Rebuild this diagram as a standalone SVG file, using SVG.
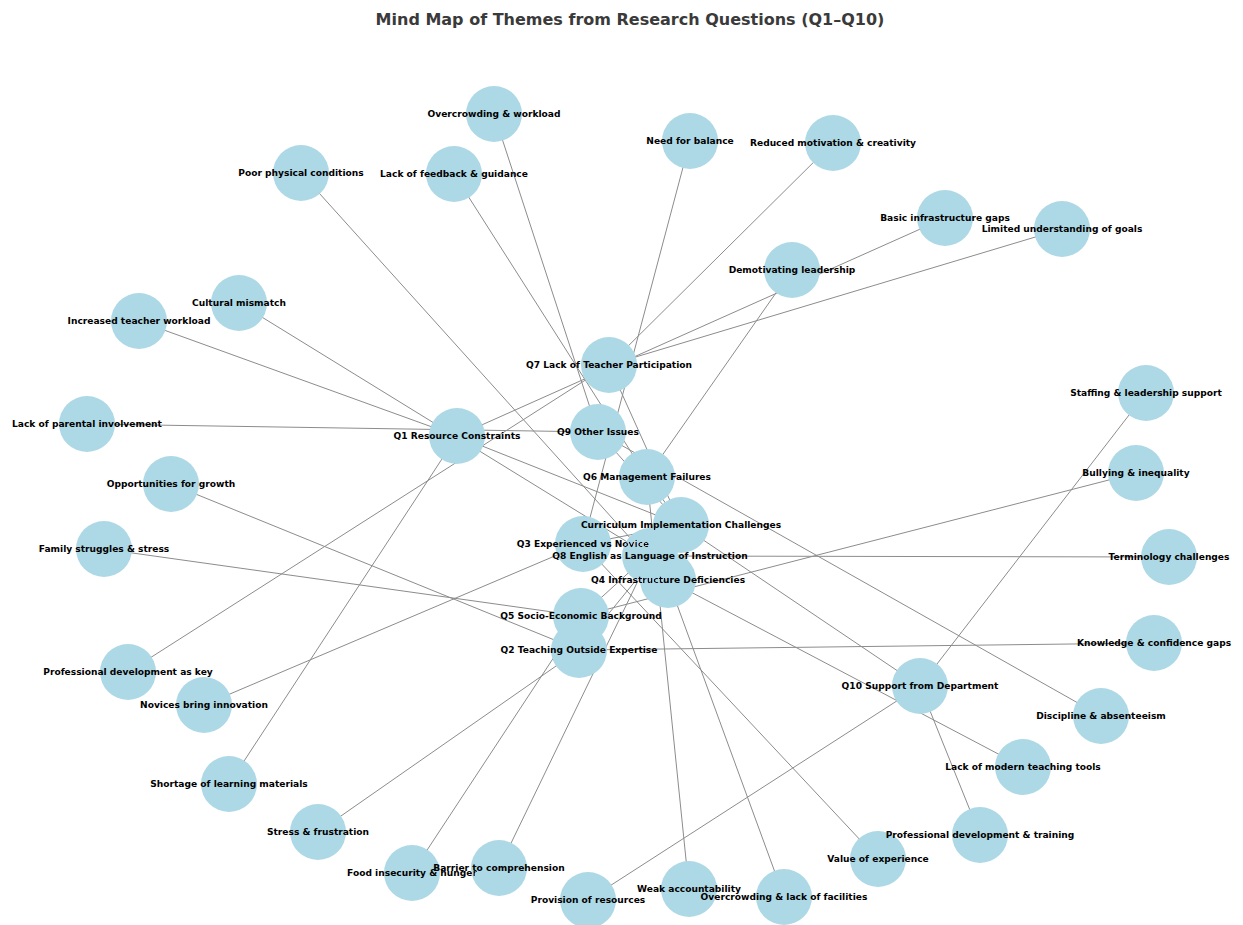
<svg xmlns="http://www.w3.org/2000/svg" xmlns:xlink="http://www.w3.org/1999/xlink" width="1243" height="925" viewBox="0 0 1243 925">
  <style>
    .edge { stroke: #8c8c8c; stroke-width: 1; fill: none; }
    .node { fill: #add8e6; }
    .label { font-family: "DejaVu Sans", "Liberation Sans", sans-serif; font-weight: bold; font-size: 9.1px; fill: #000; text-anchor: middle; }
    .title { font-family: "DejaVu Sans", "Liberation Sans", sans-serif; font-weight: bold; font-size: 16px; fill: #3a3a3a; text-anchor: middle; }
  </style>
  <defs>
    <!-- let overlapping neighbour labels stay readable on top of a circle -->
    <mask id="mask-q8" maskUnits="userSpaceOnUse" x="0" y="0" width="1243" height="925">
      <rect width="1243" height="925" fill="#fff"/>
      <use href="#label-q3"/>
      <use href="#label-q4"/>
      <use href="#label-curriculum"/>
    </mask>
    <mask id="mask-barrier" maskUnits="userSpaceOnUse" x="0" y="0" width="1243" height="925">
      <rect width="1243" height="925" fill="#fff"/>
      <use href="#label-food"/>
    </mask>
    <mask id="mask-overcrowding-facilities" maskUnits="userSpaceOnUse" x="0" y="0" width="1243" height="925">
      <rect width="1243" height="925" fill="#fff"/>
      <use href="#label-weak"/>
    </mask>
  </defs>

  <rect width="1243" height="925" fill="#fff"/>
  <text class="title" x="630" y="25">Mind Map of Themes from Research Questions (Q1–Q10)</text>

  <g id="edges">
    <!-- central theme to each research question -->
    <line class="edge" x1="681" y1="525" x2="457" y2="436"/>
    <line class="edge" x1="681" y1="525" x2="579" y2="650"/>
    <line class="edge" x1="681" y1="525" x2="583" y2="544"/>
    <line class="edge" x1="681" y1="525" x2="668" y2="580"/>
    <line class="edge" x1="681" y1="525" x2="581" y2="616"/>
    <line class="edge" x1="681" y1="525" x2="647" y2="477"/>
    <line class="edge" x1="681" y1="525" x2="609" y2="365"/>
    <line class="edge" x1="681" y1="525" x2="650" y2="556"/>
    <line class="edge" x1="681" y1="525" x2="598" y2="432"/>
    <line class="edge" x1="681" y1="525" x2="920" y2="686"/>
    <!-- Q1 -->
    <line class="edge" x1="457" y1="436" x2="139" y2="321"/>
    <line class="edge" x1="457" y1="436" x2="229" y2="784"/>
    <line class="edge" x1="457" y1="436" x2="945" y2="218"/>
    <!-- Q2 -->
    <line class="edge" x1="579" y1="650" x2="1154" y2="643"/>
    <line class="edge" x1="579" y1="650" x2="318" y2="832"/>
    <line class="edge" x1="579" y1="650" x2="171" y2="484"/>
    <!-- Q3 -->
    <line class="edge" x1="583" y1="544" x2="690" y2="141"/>
    <line class="edge" x1="583" y1="544" x2="878" y2="859"/>
    <line class="edge" x1="583" y1="544" x2="204" y2="705"/>
    <!-- Q4 -->
    <line class="edge" x1="668" y1="580" x2="301" y2="173"/>
    <line class="edge" x1="668" y1="580" x2="1023" y2="767"/>
    <line class="edge" x1="668" y1="580" x2="784" y2="897"/>
    <!-- Q5 -->
    <line class="edge" x1="581" y1="616" x2="104" y2="549"/>
    <line class="edge" x1="581" y1="616" x2="412" y2="873"/>
    <line class="edge" x1="581" y1="616" x2="1136" y2="473"/>
    <!-- Q6 -->
    <line class="edge" x1="647" y1="477" x2="454" y2="174"/>
    <line class="edge" x1="647" y1="477" x2="792" y2="270"/>
    <line class="edge" x1="647" y1="477" x2="689" y2="889"/>
    <!-- Q7 -->
    <line class="edge" x1="609" y1="365" x2="833" y2="143"/>
    <line class="edge" x1="609" y1="365" x2="1062" y2="229"/>
    <line class="edge" x1="609" y1="365" x2="128" y2="672"/>
    <!-- Q8 -->
    <line class="edge" x1="650" y1="556" x2="499" y2="868"/>
    <line class="edge" x1="650" y1="556" x2="1169" y2="557"/>
    <line class="edge" x1="650" y1="556" x2="239" y2="303"/>
    <!-- Q9 -->
    <line class="edge" x1="598" y1="432" x2="494" y2="114"/>
    <line class="edge" x1="598" y1="432" x2="1101" y2="716"/>
    <line class="edge" x1="598" y1="432" x2="87" y2="424"/>
    <!-- Q10 -->
    <line class="edge" x1="920" y1="686" x2="1146" y2="393"/>
    <line class="edge" x1="920" y1="686" x2="588" y2="900"/>
    <line class="edge" x1="920" y1="686" x2="980" y2="835"/>
  </g>

  <!-- theme nodes -->
  <g id="overcrowding-workload"><circle class="node" cx="494" cy="114" r="28"/><text class="label" x="494" y="114" dy="0.36em">Overcrowding &amp; workload</text></g>
  <g id="need-for-balance"><circle class="node" cx="690" cy="141" r="28"/><text class="label" x="690" y="141" dy="0.36em">Need for balance</text></g>
  <g id="reduced-motivation"><circle class="node" cx="833" cy="143" r="28"/><text class="label" x="833" y="143" dy="0.36em">Reduced motivation &amp; creativity</text></g>
  <g id="poor-physical-conditions"><circle class="node" cx="301" cy="173" r="28"/><text class="label" x="301" y="173" dy="0.36em">Poor physical conditions</text></g>
  <g id="lack-of-feedback"><circle class="node" cx="454" cy="174" r="28"/><text class="label" x="454" y="174" dy="0.36em">Lack of feedback &amp; guidance</text></g>
  <g id="basic-infrastructure-gaps"><circle class="node" cx="945" cy="218" r="28"/><text class="label" x="945" y="218" dy="0.36em">Basic infrastructure gaps</text></g>
  <g id="limited-understanding"><circle class="node" cx="1062" cy="229" r="28"/><text class="label" x="1062" y="229" dy="0.36em">Limited understanding of goals</text></g>
  <g id="demotivating-leadership"><circle class="node" cx="792" cy="270" r="28"/><text class="label" x="792" y="270" dy="0.36em">Demotivating leadership</text></g>
  <g id="cultural-mismatch"><circle class="node" cx="239" cy="303" r="28"/><text class="label" x="239" y="303" dy="0.36em">Cultural mismatch</text></g>
  <g id="increased-workload"><circle class="node" cx="139" cy="321" r="28"/><text class="label" x="139" y="321" dy="0.36em">Increased teacher workload</text></g>
  <g id="staffing-support"><circle class="node" cx="1146" cy="393" r="28"/><text class="label" x="1146" y="393" dy="0.36em">Staffing &amp; leadership support</text></g>
  <g id="parental-involvement"><circle class="node" cx="87" cy="424" r="28"/><text class="label" x="87" y="424" dy="0.36em">Lack of parental involvement</text></g>
  <g id="bullying-inequality"><circle class="node" cx="1136" cy="473" r="28"/><text class="label" x="1136" y="473" dy="0.36em">Bullying &amp; inequality</text></g>
  <g id="opportunities-growth"><circle class="node" cx="171" cy="484" r="28"/><text class="label" x="171" y="484" dy="0.36em">Opportunities for growth</text></g>
  <g id="family-struggles"><circle class="node" cx="104" cy="549" r="28"/><text class="label" x="104" y="549" dy="0.36em">Family struggles &amp; stress</text></g>
  <g id="terminology-challenges"><circle class="node" cx="1169" cy="557" r="28"/><text class="label" x="1169" y="557" dy="0.36em">Terminology challenges</text></g>
  <g id="knowledge-gaps"><circle class="node" cx="1154" cy="643" r="28"/><text class="label" x="1154" y="643" dy="0.36em">Knowledge &amp; confidence gaps</text></g>
  <g id="pd-as-key"><circle class="node" cx="128" cy="672" r="28"/><text class="label" x="128" y="672" dy="0.36em">Professional development as key</text></g>
  <g id="novices-innovation"><circle class="node" cx="204" cy="705" r="28"/><text class="label" x="204" y="705" dy="0.36em">Novices bring innovation</text></g>
  <g id="discipline-absenteeism"><circle class="node" cx="1101" cy="716" r="28"/><text class="label" x="1101" y="716" dy="0.36em">Discipline &amp; absenteeism</text></g>
  <g id="modern-tools"><circle class="node" cx="1023" cy="767" r="28"/><text class="label" x="1023" y="767" dy="0.36em">Lack of modern teaching tools</text></g>
  <g id="shortage-materials"><circle class="node" cx="229" cy="784" r="28"/><text class="label" x="229" y="784" dy="0.36em">Shortage of learning materials</text></g>
  <g id="value-experience"><circle class="node" cx="878" cy="859" r="28"/><text class="label" x="878" y="859" dy="0.36em">Value of experience</text></g>
  <g id="pd-training"><circle class="node" cx="980" cy="835" r="28"/><text class="label" x="980" y="835" dy="0.36em">Professional development &amp; training</text></g>
  <g id="stress-frustration"><circle class="node" cx="318" cy="832" r="28"/><text class="label" x="318" y="832" dy="0.36em">Stress &amp; frustration</text></g>
  <g id="food-insecurity"><circle class="node" cx="412" cy="873" r="28"/><text id="label-food" class="label" x="412" y="873" dy="0.36em">Food insecurity &amp; hunger</text></g>
  <g id="barrier-comprehension"><circle class="node" cx="499" cy="868" r="28" mask="url(#mask-barrier)"/><text class="label" x="499" y="868" dy="0.36em">Barrier to comprehension</text></g>
  <g id="weak-accountability"><circle class="node" cx="689" cy="889" r="28"/><text id="label-weak" class="label" x="689" y="889" dy="0.36em">Weak accountability</text></g>
  <g id="overcrowding-facilities"><circle class="node" cx="784" cy="897" r="28" mask="url(#mask-overcrowding-facilities)"/><text class="label" x="784" y="897" dy="0.36em">Overcrowding &amp; lack of facilities</text></g>
  <g id="provision-resources"><circle class="node" cx="588" cy="900" r="28"/><text class="label" x="588" y="900" dy="0.36em">Provision of resources</text></g>

  <!-- research question hubs -->
  <g id="q7"><circle class="node" cx="609" cy="365" r="28"/><text class="label" x="609" y="365" dy="0.36em">Q7 Lack of Teacher Participation</text></g>
  <g id="q9"><circle class="node" cx="598" cy="432" r="28"/><text class="label" x="598" y="432" dy="0.36em">Q9 Other Issues</text></g>
  <g id="q1"><circle class="node" cx="457" cy="436" r="28"/><text class="label" x="457" y="436" dy="0.36em">Q1 Resource Constraints</text></g>
  <g id="q6"><circle class="node" cx="647" cy="477" r="28"/><text class="label" x="647" y="477" dy="0.36em">Q6 Management Failures</text></g>
  <g id="q5"><circle class="node" cx="581" cy="616" r="28"/><text class="label" x="581" y="616" dy="0.36em">Q5 Socio-Economic Background</text></g>
  <g id="q2"><circle class="node" cx="579" cy="650" r="28"/><text class="label" x="579" y="650" dy="0.36em">Q2 Teaching Outside Expertise</text></g>
  <g id="q3"><circle class="node" cx="583" cy="544" r="28"/><text id="label-q3" class="label" x="583" y="544" dy="0.36em">Q3 Experienced vs Novice</text></g>
  <g id="curriculum"><circle class="node" cx="681" cy="525" r="28"/><text id="label-curriculum" class="label" x="681" y="525" dy="0.36em">Curriculum Implementation Challenges</text></g>
  <g id="q4"><circle class="node" cx="668" cy="580" r="28"/><text id="label-q4" class="label" x="668" y="580" dy="0.36em">Q4 Infrastructure Deficiencies</text></g>
  <g id="q8"><circle class="node" cx="650" cy="556" r="28" mask="url(#mask-q8)"/><text class="label" x="650" y="556" dy="0.36em">Q8 English as Language of Instruction</text></g>
  <g id="q10"><circle class="node" cx="920" cy="686" r="28"/><text class="label" x="920" y="686" dy="0.36em">Q10 Support from Department</text></g>
</svg>
